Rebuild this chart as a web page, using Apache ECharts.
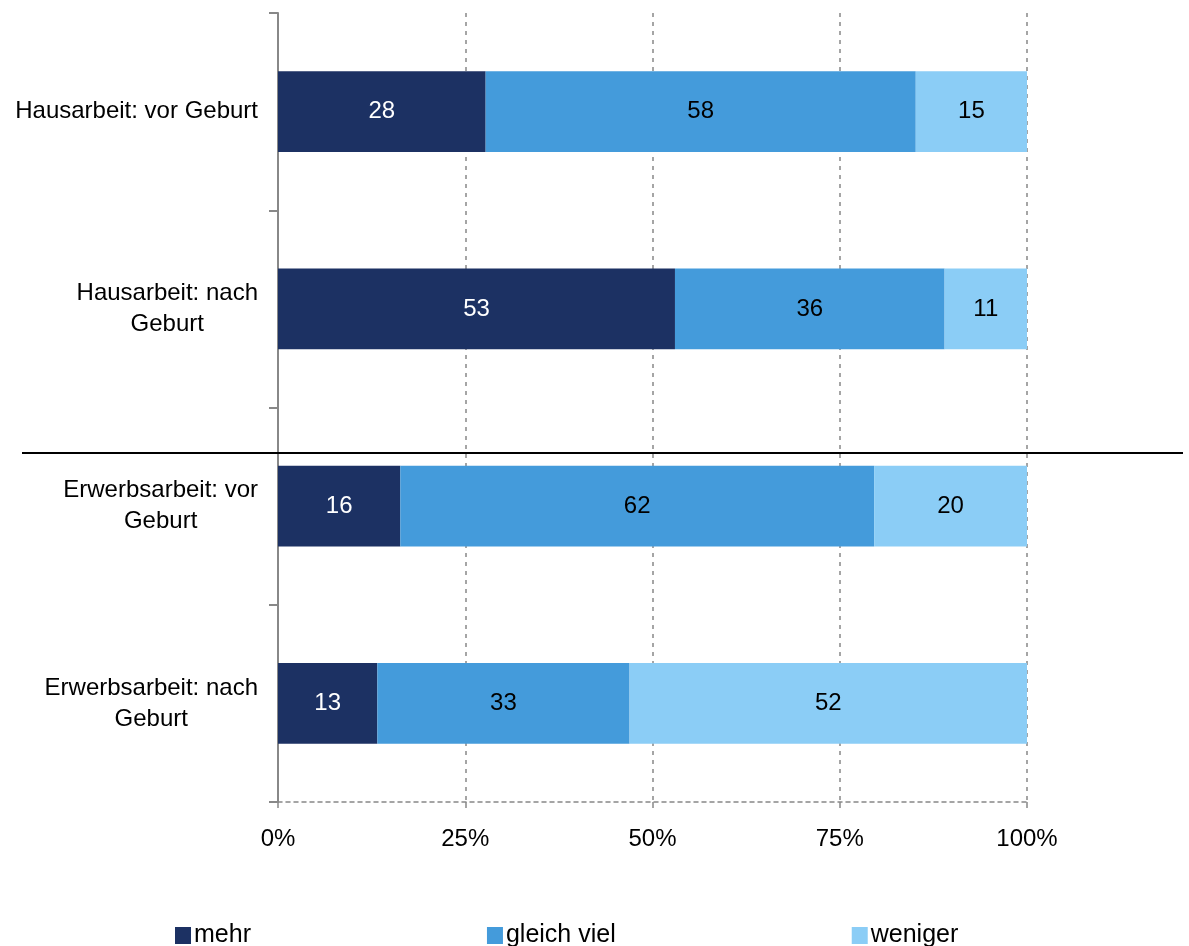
<!DOCTYPE html>
<html>
<head>
<meta charset="utf-8">
<script src="https://cdn.jsdelivr.net/npm/echarts@6/dist/echarts.min.js"></script>
<style>
html,body{margin:0;padding:0;background:#fff;}
#chart{width:1189px;height:946px;}
</style>
</head>
<body>
<div id="chart"></div>
<script>
const categories = [
  'Hausarbeit: vor Geburt',
  'Hausarbeit: nach\nGeburt',
  'Erwerbsarbeit: vor\nGeburt',
  'Erwerbsarbeit: nach\nGeburt'
];
const seriesNames = ['mehr', 'gleich viel', 'weniger'];
const mehr = [28, 53, 16, 13];
const gleichViel = [58, 36, 62, 33];
const weniger = [15, 11, 20, 52];
const xTicks = [0, 25, 50, 75, 100];

const raw = [mehr, gleichViel, weniger];
const totals = categories.map((_, i) => raw.reduce((s, arr) => s + arr[i], 0));
const colors = ['#1c3163', '#449bdb', '#8bcdf6'];
const labelColors = ['#ffffff', '#000000', '#000000'];
const FONT = 'Liberation Sans, Arial, sans-serif';

const chart = echarts.init(document.getElementById('chart'));
chart.setOption({
  animation: false,
  textStyle: { fontFamily: FONT },
  grid: { left: 278, right: 162, top: 13, bottom: 144, containLabel: false },
  legend: {
    bottom: -7,
    left: 170,
    itemWidth: 16,
    itemHeight: 17,
    itemGap: 236,
    icon: 'rect',
    textStyle: { fontSize: 25, color: '#000', fontFamily: FONT, padding: [0, 0, 0, -2] },
    data: seriesNames
  },
  xAxis: {
    type: 'value',
    min: 0,
    max: 100,
    interval: 25,
    axisLine: { show: true, lineStyle: { color: '#888', type: [4, 4], width: 1.5 } },
    axisTick: { show: true, length: 6, lineStyle: { color: '#888', width: 1.5 } },
    axisLabel: {
      margin: 25, fontSize: 24, color: '#000', fontFamily: FONT,
      formatter: v => xTicks.includes(v) ? v + '%' : ''
    },
    splitLine: { show: true, lineStyle: { color: '#888', type: [4, 5], width: 1.5 } }
  },
  yAxis: {
    type: 'category',
    inverse: true,
    data: categories,
    axisLine: { show: true, lineStyle: { color: '#888', width: 2 } },
    axisTick: { show: true, length: 9, lineStyle: { color: '#888', width: 2 } },
    axisLabel: {
      margin: 20,
      fontSize: 24,
      color: '#000',
      fontFamily: FONT,
      lineHeight: 31,
      formatter: v => v.split('\n').map(s => '{c|' + s + '}').join('\n'),
      rich: { c: { align: 'center', fontSize: 24, lineHeight: 31, color: '#000', fontFamily: FONT } }
    }
  },
  graphic: [{
    type: 'line',
    shape: { x1: 22, y1: 453, x2: 1183, y2: 453 },
    style: { stroke: '#000', lineWidth: 2 },
    z: 100
  }],
  series: raw.map((arr, si) => ({
    name: seriesNames[si],
    type: 'bar',
    stack: 'total',
    barWidth: '41%',
    itemStyle: { color: colors[si] },
    label: {
      show: true,
      position: 'inside',
      fontSize: 24,
      color: labelColors[si],
      fontFamily: FONT,
      formatter: p => String(arr[p.dataIndex])
    },
    data: arr.map((v, i) => v / totals[i] * 100)
  }))
});
</script>
</body>
</html>
